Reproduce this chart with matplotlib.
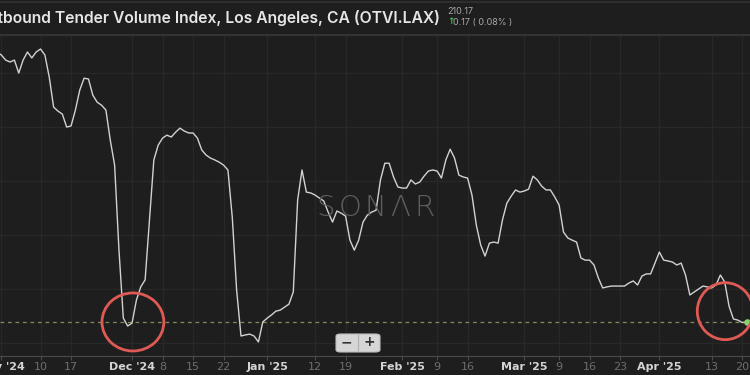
import matplotlib as mpl
mpl.use('Agg')
import matplotlib.pyplot as plt
import matplotlib.dates as mdates
from matplotlib.patches import Ellipse, FancyBboxPatch
import pandas as pd

# daily index values, Oct 31 2024 -> Apr 21 2025
oct_vals = [310.2]
nov_vals = [309.1, 307.2, 306.5, 307.2, 302.4, 307.2, 310.2, 308.0, 310.2, 311.3,
            309.1, 300.9, 289.8, 288.3, 287.2, 282.4, 282.8, 288.7, 296.1, 300.5,
            300.2, 294.2, 291.6, 290.5, 288.7, 277.6, 268.3, 236.8, 211.6, 208.7]
dec_vals = [209.8, 218.3, 223.2, 225.8, 247.9, 270.2, 275.7, 278.3, 279.4, 278.7,
            280.5, 282.0, 280.9, 280.2, 280.2, 278.3, 273.9, 272.0, 270.9, 270.2,
            269.4, 268.3, 266.5, 249.0, 222.0, 205.0, 205.4, 205.7, 205.0, 202.8,
            210.2]
jan_vals = [211.6, 212.8, 214.2, 214.6, 215.7, 216.8, 221.3, 255.4, 266.5, 258.3,
            258.0, 257.2, 256.1, 255.0, 250.9, 247.2, 251.3, 250.5, 249.4, 240.5,
            236.8, 240.5, 247.2, 249.8, 250.9, 251.6, 262.8, 269.0, 269.0, 263.9,
            260.2]
feb_vals = [259.8, 259.8, 262.8, 261.3, 262.0, 264.2, 266.1, 266.5, 266.1, 263.5,
            270.2, 274.2, 270.9, 264.6, 263.9, 263.5, 257.2, 246.1, 238.7, 234.6,
            239.4, 239.8, 239.4, 248.0, 254.2, 256.8, 259.1, 258.3]
mar_vals = [258.7, 259.4, 264.2, 262.8, 260.5, 259.1, 259.1, 256.5, 253.5, 243.5,
            241.3, 240.5, 239.8, 233.9, 233.1, 233.1, 231.3, 226.5, 222.8, 223.2,
            223.5, 223.5, 223.5, 223.5, 224.6, 225.4, 223.9, 227.2, 228.0, 228.0,
            232.0]
apr_vals = [236.1, 233.1, 232.8, 232.4, 231.3, 232.0, 227.6, 220.2, 221.3, 222.4,
            223.5, 223.2, 222.8, 223.9, 227.6, 225.0, 216.0, 211.3, 210.9, 210.0,
            210.17]

values = oct_vals + nov_vals + dec_vals + jan_vals + feb_vals + mar_vals + apr_vals
dates = pd.date_range('2024-10-31', periods=len(values), freq='D')

tick_dates = ['2024-11-01', '2024-11-10', '2024-11-17', '2024-12-01', '2024-12-08',
              '2024-12-15', '2024-12-22', '2025-01-01', '2025-01-12', '2025-01-19',
              '2025-02-01', '2025-02-09', '2025-02-16', '2025-03-01', '2025-03-09',
              '2025-03-16', '2025-03-23', '2025-04-01', '2025-04-13', '2025-04-20']
tick_labels = ["Nov '24", '10', '17', "Dec '24", '8', '15', '22', "Jan '25", '12', '19',
               "Feb '25", '9', '16', "Mar '25", '9', '16', '23', "Apr '25", '13', '20']

bg = '#1e1e1e'
fig = plt.figure(figsize=(7.5, 3.75), dpi=100, facecolor=bg)
ax = fig.add_axes([0, 0.0507, 1, 0.856], facecolor=bg)

d0 = mdates.date2num(pd.Timestamp('2024-12-01'))
ax.set_xlim(d0 - 30.3, d0 + 141.8)
ax.set_ylim(197.6, 316.5)

# grid
ax.set_yticks([202.4, 222.4, 242.4, 262.4, 282.4, 302.4])
ax.set_xticks(mdates.date2num(pd.to_datetime(tick_dates)))
ax.set_xticklabels(tick_labels)
ax.grid(True, color='#282828', lw=1)
ax.tick_params(axis='y', left=False, labelleft=False)
ax.tick_params(axis='x', length=3, color='#4a4a4a', pad=1.5, labelsize=8)
for lbl in ax.get_xticklabels():
    if "'" in lbl.get_text():
        lbl.set_color('#d4d4d4')
        lbl.set_fontweight('bold')
    else:
        lbl.set_color('#6e6e6e')
for s in ['top', 'left', 'right']:
    ax.spines[s].set_visible(False)
ax.spines['bottom'].set_color('#4a4a4a')

# series
ax.plot(dates, values, color='#d2d2d2', lw=1.0, zorder=3)
ax.axhline(values[-1], color='#7f8c5c', lw=0.9, ls=(0, (3, 3)), zorder=2)
ax.scatter([dates[-1]], [values[-1]], s=14, color='#8bd16a', zorder=4)

# red highlight circles
ax.add_patch(Ellipse((d0 + 0.2, 210.2), 14.2, 21.5, fill=False, ec='#e05a55', lw=2, zorder=5))
ax.add_patch(Ellipse((d0 + 136.1, 214.2), 12.8, 21.1, fill=False, ec='#e05a55', lw=2, zorder=5))

# watermark
for ch, xp in zip('SONΛR', [326, 350, 375, 400, 424]):
    fig.text(xp / 750, 1 - 208 / 375, ch, color='#5e5e5e', fontsize=21,
             family='DejaVu Sans', fontweight='light', ha='center', va='center')

# zoom buttons
btn = FancyBboxPatch((336 / 750, 1 - 352 / 375), 44 / 750, 18 / 375,
                     boxstyle='round,pad=0,rounding_size=0.006', transform=fig.transFigure,
                     fc='#d6d6d6', ec='#bdbdbd', lw=0.8, zorder=6)
fig.patches.append(btn)
fig.add_artist(plt.Line2D([358 / 750, 358 / 750], [1 - 350 / 375, 1 - 335 / 375],
                          color='#b0b0b0', lw=0.8, zorder=7))
fig.text(346 / 750, 1 - 342.5 / 375, '−', color='#333333', fontsize=10,
         fontweight='bold', ha='center', va='center', zorder=8)
fig.text(369 / 750, 1 - 342.5 / 375, '+', color='#333333', fontsize=10,
         fontweight='bold', ha='center', va='center', zorder=8)

# header
fig.add_artist(plt.Line2D([0, 1], [1 - 34.5 / 375, 1 - 34.5 / 375], color='#333333', lw=1.5))
fig.add_artist(plt.Line2D([0, 1], [1 - 1.5 / 375, 1 - 1.5 / 375], color='#2e2e2e', lw=1.5))
fig.text(440 / 750, 1 - 18 / 375, 'Outbound Tender Volume Index, Los Angeles, CA (OTVI.LAX)',
         color='#e6e6e6', fontsize=11.3, family='Inter', fontweight='semibold',
         ha='right', va='center')
fig.text(447 / 750, 1 - 12 / 375, '210.17', color='#a8a8a8', fontsize=6.5,
         family='Inter', ha='left', va='center')
fig.text(447 / 750, 1 - 22 / 375, '↑', color='#3fb950', fontsize=6.5,
         family='DejaVu Sans', fontweight='bold', ha='left', va='center')
fig.text(453 / 750, 1 - 22 / 375, '0.17 ( 0.08% )', color='#a8a8a8', fontsize=6.5,
         family='Inter', ha='left', va='center')

plt.savefig('out.png', dpi=100, facecolor=bg)
plt.close()
